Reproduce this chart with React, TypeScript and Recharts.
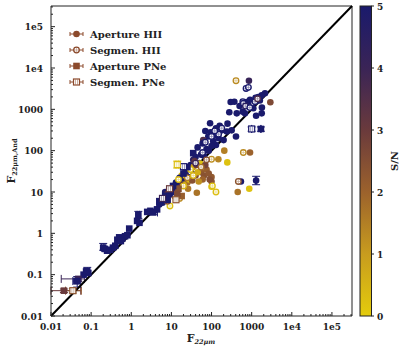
import React from 'react'
import { ScatterChart, Scatter, XAxis, YAxis, ReferenceLine, ErrorBar } from 'recharts'

const FONT = '"DejaVu Serif", serif'

// colour scale for S/N (0 .. 5)
const snStops = [0, 1, 2, 3, 4, 5]
const snColors = ['#e4cc0c', '#c89c1e', '#9c622c', '#6a3a3c', '#3a2456', '#1a1a6c']

const majorTicks = [0.01, 0.1, 1, 10, 100, 1000, 1e4, 1e5]
const tickLabels = ['0.01', '0.1', '1', '10', '100', '1000', '1e4', '1e5']
const axisMax = 316228
const cbarTicks = [0, 1, 2, 3, 4, 5]

// [F22um, F22um,And, S/N]
const apertureHII = [
  [855, 4900, 4.1], [2920, 1480, 2.6], [2150, 2450, 5], [1780, 2200, 5], [1460, 1990, 5], [1600, 1640, 5],
  [1250, 1900, 5], [1800, 1100, 5], [1780, 800, 5], [1290, 700, 5], [370, 1530, 5], [277, 850, 5],
  [830, 1270, 5], [910, 1700, 5], [1100, 1060, 5], [425, 800, 5], [680, 800, 5], [600, 880, 5],
  [500, 1200, 5], [300, 1500, 5], [750, 1500, 5],
  [92, 460, 5], [129, 350, 5], [180, 310, 5], [240, 290, 5], [317, 310, 5], [407, 220, 5], [120, 240, 5],
  [83, 220, 5], [62, 180, 3.5], [129, 137, 5], [70, 300, 5], [95, 280, 5], [150, 200, 5], [200, 180, 5],
  [110, 170, 5], [160, 400, 5], [250, 450, 5], [60, 150, 5], [45, 120, 5], [75, 110, 5], [55, 80, 5],
  [40, 70, 5], [35, 60, 4.5], [30, 45, 5], [25, 30, 5], [50, 50, 5], [65, 75, 5], [85, 100, 5],
  [100, 130, 5], [20, 25, 5], [18, 20, 5], [15, 15, 5], [12, 12, 5], [22, 18, 5], [28, 24, 5],
  [208, 100, 1.5], [910, 90, 2.0], [540, 18, 5], [870, 12, 0.2], [450, 10, 1.7], [100, 23, 2.2],
  [100, 18, 2.3], [43, 9.6, 1.7], [247, 52, 0.2], [148, 62, 1.4], [52, 49, 0.2], [100, 13.4, 0.3],
  [55, 30, 2.2], [65, 25, 2.4], [75, 35, 2.1], [85, 28, 2.3], [60, 20, 2.0], [90, 20, 2.5], [30, 22, 2.0],
  [25, 17, 1.8], [40, 25, 2.6], [35, 40, 1.0], [45, 30, 0.6], [28, 20, 0.3], [20, 15, 0.8], [70, 45, 2.8],
  [38, 55, 3.2], [48, 18, 1.2], [17, 15, 3.4], [22, 30, 3.8], [32, 28, 2.9], [18, 25, 0.4], [26, 12, 1.6],
  [42, 45, 3.0], [33, 19, 2.4],
  [8, 7, 5], [10, 9, 5], [6, 5.5, 5], [5, 5, 5], [7, 10, 4.8], [13, 17, 5], [16, 22, 5], [8, 9, 3.6],
  [10, 12, 3.2],
]

const segmenHII = [
  [407, 4920, 1.3], [725, 3200, 5], [830, 3400, 5], [1210, 1530, 5], [600, 1530, 5], [620, 1400, 5],
  [700, 1200, 4.5], [1400, 1800, 3.6], [900, 1100, 5], [620, 90, 1.3], [100, 62, 1.2], [466, 18, 2.3],
  [105, 14, 0.2], [129, 10, 0.3], [9.2, 4.6, 0.2], [16, 7, 1.3], [60, 90, 5], [40, 50, 4.0], [70, 160, 5],
  [100, 220, 5], [150, 250, 5], [30, 30, 5], [180, 350, 5], [120, 300, 5], [55, 40, 1.8], [25, 22, 1.5],
  [35, 25, 0.5], [12, 8, 2.2], [8, 6, 2.6], [20, 14, 0.5], [75, 60, 2.4], [15, 20, 0.4], [30, 35, 0.3],
]

const aperturePNe = [
  [0.043, 0.07, 5], [0.065, 0.1, 5], [0.075, 0.12, 5], [0.085, 0.11, 5], [0.25, 0.38, 5], [0.3, 0.4, 5],
  [0.35, 0.45, 5], [0.4, 0.5, 5], [0.22, 0.42, 5], [0.45, 0.7, 5], [0.5, 0.8, 5], [0.6, 0.75, 5],
  [0.7, 0.85, 5], [0.8, 0.9, 5], [0.55, 0.65, 5], [0.89, 1.3, 5], [1.6, 1.8, 5], [1.4, 2.0, 5],
  [2.5, 3.3, 5], [3, 3.5, 5], [4.4, 3.8, 5], [5, 6, 5], [6, 7, 5], [7, 8, 5], [8, 6.5, 5], [9, 9, 5],
  [10, 11, 5], [12, 10, 5], [35, 87, 5], [15, 12, 2.4], [18, 8, 2.1], [14, 9, 2.6], [20, 28, 5],
  [25, 40, 5], [11, 14, 5],
]

const segmenPNe = [
  [20, 41, 5], [9, 12, 3], [6, 7, 4], [13, 6.5, 2.3],
]

// points with visible error bars: [x, y, S/N, kind, xLow, xHigh, yLow, yHigh]
const errPoints: [number, number, number, string, number, number, number, number][] = [
  [0.021, 0.041, 3.0, 'apPNe', 0.011, 0.034, 0.004, 0.004],
  [0.035, 0.041, 2.3, 'sgPNe', 0.012, 0.022, 0.005, 0.005],
  [0.048, 0.079, 4.0, 'apPNe', 0.03, 0.02, 0.01, 0.01],
  [0.045, 0.07, 5, 'apPNe', 0.01, 0.01, 0.02, 0.02],
  [0.08, 0.12, 5, 'apPNe', 0.01, 0.01, 0.025, 0.03],
  [0.2, 0.45, 5, 'apPNe', 0.02, 0.02, 0.06, 0.12],
  [1.5, 2.8, 5, 'apPNe', 0.1, 0.1, 0.5, 0.6],
  [3.5, 3.2, 5, 'apPNe', 0.8, 1.0, 0.3, 0.3],
  [14, 46, 0.3, 'sgPNe', 1, 1, 8, 10],
  [1290, 19, 5, 'apHII', 50, 50, 4, 5],
  [1000, 335, 5, 'sgPNe', 0, 0, 40, 40],
  [1700, 335, 5, 'apPNe', 0, 0, 40, 40],
]

const legendItems = [
  { kind: 'apHII', label: 'Aperture HII' },
  { kind: 'sgHII', label: 'Segmen. HII' },
  { kind: 'apPNe', label: 'Aperture PNe' },
  { kind: 'sgPNe', label: 'Segmen. PNe' },
]

function hexToRgb(h: string) {
  return [1, 3, 5].map(i => parseInt(h.slice(i, i + 2), 16))
}

function snColor(sn: number) {
  const v = Math.max(0, Math.min(5, sn))
  let i = Math.min(snStops.length - 2, Math.floor(v))
  const t = (v - snStops[i]) / (snStops[i + 1] - snStops[i])
  const a = hexToRgb(snColors[i])
  const b = hexToRgb(snColors[i + 1])
  const c = a.map((ai, k) => Math.round(ai + (b[k] - ai) * t))
  return `rgb(${c[0]},${c[1]},${c[2]})`
}

const minorTicks: number[] = []
majorTicks.forEach(m => {
  for (let k = 2; k <= 9; k++) if (m * k < axisMax) minorTicks.push(m * k)
})
const allTicks = [...majorTicks, ...minorTicks].sort((a, b) => a - b)

const toRows = (arr: number[][]) => arr.map(([x, y, sn]) => ({ x, y, sn }))

function Marker({ kind, cx, cy, color }: { kind: string; cx: number; cy: number; color: string }) {
  if (cx == null || cy == null) return null
  if (kind === 'apHII') return <circle cx={cx} cy={cy} r={3.3} fill={color} />
  if (kind === 'sgHII')
    return (
      <g>
        <circle cx={cx} cy={cy} r={2.8} fill="#fff" stroke={color} strokeWidth={1.3} />
        <path d={`M${cx - 2.5},${cy}H${cx + 2.5}M${cx},${cy - 2.5}V${cy + 2.5}`} stroke={color} strokeWidth={0.6} opacity={0.6} />
      </g>
    )
  if (kind === 'apPNe') return <rect x={cx - 3.3} y={cy - 3.3} width={6.6} height={6.6} fill={color} />
  return (
    <g>
      <rect x={cx - 3} y={cy - 3} width={6} height={6} fill="#fff" stroke={color} strokeWidth={1.2} />
      <path d={`M${cx - 1},${cy - 2.5}V${cy + 2.5}M${cx + 1},${cy - 2.5}V${cy + 2.5}`} stroke={color} strokeWidth={0.6} opacity={0.7} />
    </g>
  )
}

const shapeFor = (kind: string) => (props: any) =>
  <Marker kind={kind} cx={props.cx} cy={props.cy} color={snColor(props.payload.sn)} />

const XTick = ({ x, y, payload }: any) => {
  const i = majorTicks.indexOf(payload.value)
  return (
    <g>
      <line x1={x} x2={x} y1={y} y2={y - (i >= 0 ? 4 : 2)} stroke="#222" />
      {i >= 0 && (
        <text x={x} y={y + 14} textAnchor="middle" fontFamily={FONT} fontWeight="bold" fontSize={9} fill="#222">
          {tickLabels[i]}
        </text>
      )}
    </g>
  )
}

const YTick = ({ x, y, payload }: any) => {
  const i = majorTicks.indexOf(payload.value)
  return (
    <g>
      <line x1={x} x2={x + (i >= 0 ? 4 : 2)} y1={y} y2={y} stroke="#222" />
      {i >= 0 && (
        <text x={x - 8} y={y + 3.5} textAnchor="end" fontFamily={FONT} fontWeight="bold" fontSize={9} fill="#222">
          {tickLabels[i]}
        </text>
      )}
    </g>
  )
}

export default function App() {
  return (
    <div style={{ position: 'absolute', left: 0, top: 0, width: 403, height: 349, background: '#fff' }}>
      <ScatterChart width={403} height={349} margin={{ top: 6, right: 51, bottom: 0, left: 0 }}>
        <XAxis
          type="number"
          dataKey="x"
          scale="log"
          domain={[0.01, axisMax]}
          allowDataOverflow
          ticks={allTicks}
          interval={0}
          tickSize={0}
          tickMargin={0}
          tick={<XTick />}
          height={33}
          axisLine={{ stroke: '#222' }}
        />
        <YAxis
          type="number"
          dataKey="y"
          scale="log"
          domain={[0.01, axisMax]}
          allowDataOverflow
          ticks={allTicks}
          interval={0}
          tickSize={0}
          tickMargin={0}
          tick={<YTick />}
          width={51}
          axisLine={{ stroke: '#222' }}
        />
        <ReferenceLine y={axisMax} stroke="#222" />
        <ReferenceLine x={axisMax} stroke="#222" />
        <Scatter name="Aperture HII" data={toRows(apertureHII)} shape={shapeFor('apHII')} isAnimationActive={false} />
        <Scatter name="Segmen. HII" data={toRows(segmenHII)} shape={shapeFor('sgHII')} isAnimationActive={false} />
        <Scatter name="Aperture PNe" data={toRows(aperturePNe)} shape={shapeFor('apPNe')} isAnimationActive={false} />
        <Scatter name="Segmen. PNe" data={toRows(segmenPNe)} shape={shapeFor('sgPNe')} isAnimationActive={false} />
        {errPoints.map((p, i) => {
          const col = snColor(p[2])
          const row = { x: p[0], y: p[1], sn: p[2], ex: [p[4], p[5]], ey: [p[6], p[7]] }
          return (
            <Scatter key={i} data={[row]} shape={shapeFor(p[3])} isAnimationActive={false}>
              <ErrorBar dataKey="ex" direction="x" stroke={col} width={4} strokeWidth={1} />
              <ErrorBar dataKey="ey" direction="y" stroke={col} width={4} strokeWidth={1} />
            </Scatter>
          )
        })}
        <ReferenceLine
          segment={[{ x: 0.01, y: 0.01 }, { x: axisMax, y: axisMax }]}
          stroke="#000"
          strokeWidth={2}
        />
      </ScatterChart>
      <svg width={403} height={349} style={{ position: 'absolute', left: 0, top: 0, pointerEvents: 'none' }}>
        <defs>
          <linearGradient id="snGrad" x1="0" y1="1" x2="0" y2="0">
            {snStops.map((s, i) => (
              <stop key={s} offset={`${(s / 5) * 100}%`} stopColor={snColors[i]} />
            ))}
          </linearGradient>
        </defs>
        {legendItems.map((it, i) => {
          const cy = 34 + i * 16
          const c = '#8c4a2c'
          return (
            <g key={it.kind}>
              <path d={`M70,${cy}H83M70,${cy - 2}V${cy + 2}M83,${cy - 2}V${cy + 2}`} stroke={c} strokeWidth={1} />
              <Marker kind={it.kind} cx={76.5} cy={cy} color={c} />
              <text x={90} y={cy + 3.5} fontFamily={FONT} fontWeight="bold" fontSize={10} fill="#222">
                {it.label}
              </text>
            </g>
          )
        })}
        <rect x={360} y={6} width={11.5} height={310} fill="url(#snGrad)" stroke="#222" strokeWidth={1} />
        {cbarTicks.map(t => {
          const ty = 316 - (t / 5) * 310
          return (
            <g key={t}>
              <line x1={371.5} x2={374} y1={ty} y2={ty} stroke="#222" />
              <text x={377} y={ty + 3.5} fontFamily={FONT} fontWeight="bold" fontSize={9} fill="#222">
                {t}
              </text>
            </g>
          )
        })}
        <text
          transform="translate(398,161) rotate(-90)"
          textAnchor="middle"
          fontFamily={FONT}
          fontWeight="bold"
          fontSize={10}
          fill="#222"
        >
          S/N
        </text>
        <text x={201} y={342} textAnchor="middle" fontFamily={FONT} fontWeight="bold" fontSize={11} fill="#222">
          F<tspan fontSize={6.5} dy={2} fontStyle="italic">22μm</tspan>
        </text>
        <text
          transform="translate(15,161) rotate(-90)"
          textAnchor="middle"
          fontFamily={FONT}
          fontWeight="bold"
          fontSize={11}
          fill="#222"
        >
          F<tspan fontSize={6.5} dy={2}>22μm,And</tspan>
        </text>
      </svg>
    </div>
  )
}
